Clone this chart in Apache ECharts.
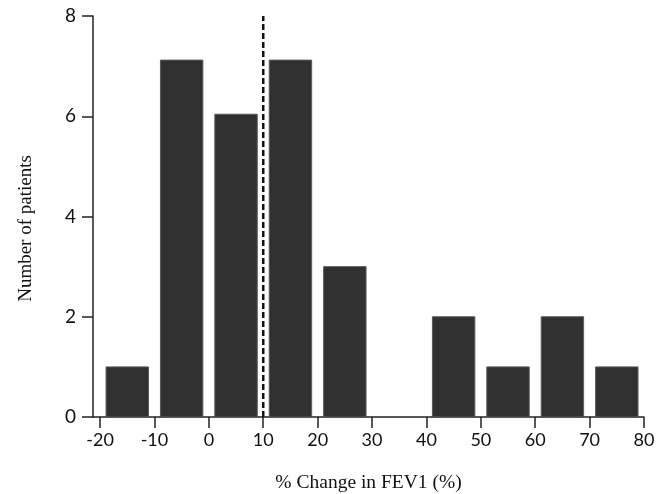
<!DOCTYPE html>
<html>
<head>
<meta charset="utf-8">
<script src="https://cdn.jsdelivr.net/npm/echarts@6/dist/echarts.min.js"></script>
<style>html,body{margin:0;padding:0;background:#fff}#c{width:668px;height:494px}</style>
</head>
<body>
<div id="c"></div>
<script>
// Histogram bins (% change in FEV1) and counts
var binStarts = [-20, -10, 0, 10, 20, 30, 40, 50, 60, 70];
var binWidth = 10;
var counts = [1, 7.12, 6.04, 7.12, 3, 0, 2, 1, 2, 1];
var xTickValues = [-20, -10, 0, 10, 20, 30, 40, 50, 60, 70, 80];
var yTickValues = [0, 2, 4, 6, 8];
var thresholdX = 10;
var xTitle = '% Change in FEV1 (%)';
var yTitle = 'Number of patients';

var xMin = -21.3, xMax = 80;
var serif = '"Liberation Serif", "Times New Roman", serif';
var sans = 'Lato, "Open Sans", sans-serif';

var barData = binStarts.map(function (s, i) { return [s, s + binWidth, counts[i]]; });
var xTickPos = xTickValues.map(function (v) { return Math.max(v, xMin); });

var chart = echarts.init(document.getElementById('c'));
chart.setOption({
  animation: false,
  backgroundColor: '#fff',
  grid: { left: 93, right: 24, top: 16, bottom: 77, containLabel: false, outerBoundsMode: 'none' },
  xAxis: {
    type: 'value', min: xMin, max: xMax,
    name: xTitle, nameLocation: 'middle', nameGap: 56,
    nameTextStyle: { fontFamily: serif, fontSize: 19.5, color: '#111' },
    axisLine: { show: true, onZero: false, lineStyle: { color: '#222', width: 1.5 } },
    axisTick: { show: true, length: 11, lineStyle: { color: '#222', width: 1.5 },
      customValues: xTickPos },
    axisLabel: { fontFamily: sans, fontSize: 18, color: '#111', margin: 14,
      customValues: xTickPos,
      formatter: function (v) { return String(v < -20 ? -20 : Math.round(v)); } },
    splitLine: { show: false }
  },
  yAxis: {
    type: 'value', min: 0, max: 8, interval: 2,
    name: yTitle, nameLocation: 'middle', nameGap: 57, nameRotate: 90,
    nameTextStyle: { fontFamily: serif, fontSize: 19, color: '#111', padding: [0, 24, 0, 0] },
    axisLine: { show: true, onZero: false, lineStyle: { color: '#222', width: 1.5 } },
    axisTick: { show: true, length: 11, lineStyle: { color: '#222', width: 1.5 } },
    axisLabel: { fontFamily: sans, fontSize: 19, color: '#111', margin: 17 },
    splitLine: { show: false }
  },
  series: [
    {
      type: 'custom',
      data: barData,
      encode: { x: [0, 1], y: 2 },
      renderItem: function (params, api) {
        var p0 = api.coord([api.value(0), api.value(2)]);
        var p1 = api.coord([api.value(1), 0]);
        var w = p1[0] - p0[0];
        var bw = w * 0.78;
        var x = p0[0] + (w - bw) / 2;
        var h = p1[1] - p0[1];
        if (h <= 0) return null;
        return {
          type: 'rect',
          shape: { x: x, y: p0[1], width: bw, height: h },
          style: { fill: '#303030', stroke: '#5a5a5a', lineWidth: 1 }
        };
      },
      z: 2
    },
    {
      type: 'line',
      data: [[thresholdX, 0], [thresholdX, 8]],
      symbol: 'none',
      lineStyle: { color: '#111', width: 2.5, type: [6, 3] },
      z: 3
    }
  ]
});
</script>
</body>
</html>
